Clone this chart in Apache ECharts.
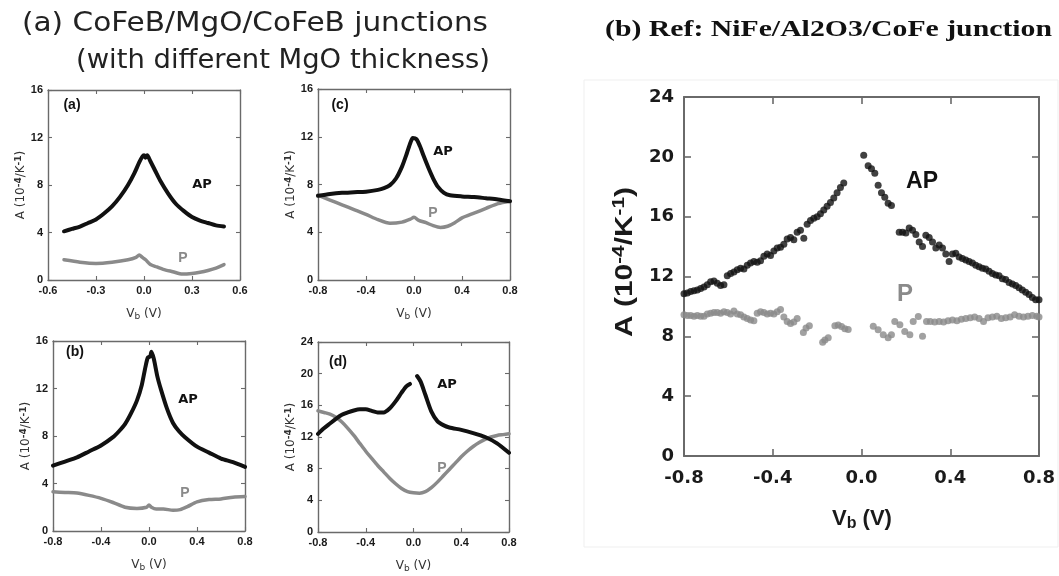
<!DOCTYPE html>
<html>
<head>
<meta charset="utf-8">
<script src="https://cdn.jsdelivr.net/npm/echarts@6/dist/echarts.min.js"></script>
<style>
  html, body { margin: 0; padding: 0; background: #ffffff; }
  #chart { width: 1059px; height: 576px; }
</style>
</head>
<body>
<div id="chart"></div>
<script>
// ---- Thermopower coefficient A (10^-4 / K^-1) versus bias voltage Vb (V) ----

// (a) thinnest MgO barrier, bias sweep ±0.5 V
const aAP = [[-0.5,4.1],[-0.45,4.3],[-0.4,4.5],[-0.35,4.8],[-0.3,5.1],[-0.25,5.6],[-0.2,6.2],[-0.15,7.0],[-0.1,8.0],[-0.06,9.0],[-0.03,9.9],[-0.01,10.4],[0,10.5],[0.01,10.3],[0.02,10.5],[0.04,10.0],[0.07,9.2],[0.1,8.4],[0.15,7.3],[0.2,6.4],[0.25,5.8],[0.3,5.3],[0.35,5.0],[0.4,4.8],[0.45,4.6],[0.5,4.5]];
const aP = [[-0.5,1.7],[-0.4,1.5],[-0.3,1.4],[-0.2,1.5],[-0.1,1.7],[-0.05,1.9],[-0.03,2.1],[-0.01,1.9],[0.01,1.7],[0.04,1.3],[0.08,1.1],[0.12,0.9],[0.18,0.7],[0.24,0.5],[0.3,0.55],[0.35,0.65],[0.4,0.8],[0.45,1.0],[0.5,1.3]];

// (b)
const bAP = [[-0.8,5.5],[-0.7,5.85],[-0.6,6.2],[-0.5,6.7],[-0.4,7.2],[-0.3,7.9],[-0.25,8.4],[-0.2,9.0],[-0.15,9.9],[-0.1,11.0],[-0.06,12.3],[-0.03,13.8],[-0.01,14.6],[0.01,14.7],[0.02,15.1],[0.04,14.5],[0.07,13.0],[0.1,11.9],[0.15,10.3],[0.2,9.1],[0.25,8.4],[0.3,7.9],[0.4,7.1],[0.5,6.6],[0.6,6.1],[0.7,5.8],[0.8,5.4]];
const bP = [[-0.8,3.3],[-0.7,3.25],[-0.6,3.2],[-0.5,3.0],[-0.4,2.75],[-0.3,2.4],[-0.2,2.0],[-0.1,1.9],[-0.02,2.0],[0,2.2],[0.02,2.0],[0.06,1.85],[0.12,1.85],[0.2,1.75],[0.26,1.8],[0.32,2.05],[0.4,2.45],[0.5,2.65],[0.6,2.7],[0.7,2.85],[0.8,2.9]];

// (c)
const cAP = [[-0.8,7.05],[-0.7,7.2],[-0.6,7.3],[-0.5,7.35],[-0.4,7.4],[-0.3,7.55],[-0.25,7.7],[-0.2,7.95],[-0.15,8.5],[-0.1,9.5],[-0.06,10.6],[-0.03,11.5],[-0.01,11.9],[0.02,11.8],[0.05,11.2],[0.08,10.4],[0.12,9.4],[0.16,8.5],[0.2,7.8],[0.25,7.3],[0.3,7.1],[0.4,7.0],[0.5,6.95],[0.6,6.85],[0.7,6.75],[0.8,6.6]];
const cP = [[-0.8,7.1],[-0.7,6.7],[-0.6,6.3],[-0.5,5.9],[-0.4,5.5],[-0.3,5.05],[-0.2,4.75],[-0.1,4.85],[-0.03,5.1],[0,5.25],[0.04,5.0],[0.1,4.8],[0.16,4.55],[0.22,4.4],[0.28,4.5],[0.34,4.8],[0.4,5.2],[0.5,5.6],[0.6,6.0],[0.7,6.4],[0.8,6.6]];

// (d) thickest barrier; AP branch has a gap around zero bias
const dAPneg = [[-0.8,12.4],[-0.75,13.1],[-0.7,13.7],[-0.65,14.3],[-0.6,14.8],[-0.55,15.1],[-0.5,15.35],[-0.45,15.5],[-0.4,15.5],[-0.35,15.3],[-0.3,15.1],[-0.25,15.1],[-0.2,15.6],[-0.15,16.5],[-0.1,17.6],[-0.06,18.4],[-0.03,18.7]];
const dAPpos = [[0.03,19.7],[0.06,19.0],[0.1,17.3],[0.15,15.2],[0.2,14.0],[0.25,13.5],[0.3,13.2],[0.4,12.9],[0.5,12.5],[0.6,12.0],[0.7,11.2],[0.8,10.0]];
const dP = [[-0.8,15.3],[-0.75,15.1],[-0.7,14.9],[-0.65,14.5],[-0.6,13.9],[-0.55,13.1],[-0.5,12.2],[-0.45,11.2],[-0.4,10.2],[-0.35,9.3],[-0.3,8.4],[-0.25,7.6],[-0.2,6.8],[-0.15,6.1],[-0.1,5.5],[-0.05,5.1],[0,4.95],[0.05,4.9],[0.1,5.1],[0.15,5.6],[0.2,6.3],[0.25,7.1],[0.3,7.9],[0.35,8.7],[0.4,9.5],[0.45,10.2],[0.5,10.8],[0.55,11.3],[0.6,11.7],[0.65,12.0],[0.7,12.2],[0.75,12.3],[0.8,12.4]];

// Reference NiFe/Al2O3/CoFe junction (discrete points)
const refAP = [
  [-0.800,10.85],[-0.785,10.9],[-0.770,11.0],[-0.755,11.05],[-0.740,11.1],[-0.725,11.2],[-0.710,11.3],[-0.695,11.45],[-0.680,11.65],[-0.665,11.7],
  [-0.650,11.55],[-0.635,11.4],[-0.620,11.45],[-0.605,12.05],[-0.590,12.2],[-0.575,12.3],[-0.560,12.45],[-0.545,12.55],[-0.530,12.5],[-0.515,12.75],
  [-0.500,12.9],[-0.485,13.0],[-0.470,12.95],[-0.455,13.05],[-0.440,13.35],[-0.425,13.5],[-0.410,13.4],[-0.395,13.7],[-0.380,13.9],[-0.365,13.95],
  [-0.350,14.15],[-0.335,14.5],[-0.320,14.6],[-0.305,14.45],[-0.290,14.95],[-0.275,15.1],[-0.260,14.55],[-0.245,15.5],[-0.230,15.75],[-0.215,15.9],
  [-0.200,16.0],[-0.185,16.2],[-0.170,16.45],[-0.155,16.7],[-0.140,16.95],[-0.125,17.25],[-0.110,17.6],[-0.095,17.95],[-0.080,18.25],
  [0.010,20.1],[0.030,19.4],[0.045,19.2],[0.060,18.9],[0.075,18.1],[0.090,17.6],[0.105,17.3],[0.120,16.9],[0.135,16.75],
  [0.170,14.95],[0.185,14.95],[0.200,14.9],[0.215,15.25],[0.230,15.1],[0.245,14.8],[0.260,14.3],[0.275,14.0],[0.290,14.75],[0.305,14.6],
  [0.320,14.3],[0.335,13.9],[0.350,14.1],[0.365,13.9],[0.380,13.5],[0.395,13.0],[0.410,13.5],[0.425,13.55],[0.440,13.3],[0.455,13.2],
  [0.470,13.1],[0.485,13.0],[0.500,12.9],[0.515,12.75],[0.530,12.65],[0.545,12.55],[0.560,12.5],[0.575,12.35],[0.590,12.2],[0.605,12.1],
  [0.620,12.05],[0.635,11.85],[0.650,11.8],[0.665,11.6],[0.680,11.5],[0.695,11.4],[0.710,11.25],[0.725,11.1],[0.740,10.95],[0.755,10.8],
  [0.770,10.6],[0.785,10.45],[0.800,10.45]
];
const refP = [
  [-0.800,9.45],[-0.785,9.4],[-0.770,9.4],[-0.755,9.35],[-0.740,9.4],[-0.725,9.35],[-0.710,9.35],[-0.695,9.5],[-0.680,9.55],[-0.665,9.6],
  [-0.650,9.6],[-0.635,9.55],[-0.620,9.65],[-0.605,9.6],[-0.590,9.5],[-0.575,9.7],[-0.560,9.5],[-0.545,9.45],[-0.530,9.3],[-0.515,9.2],
  [-0.500,9.1],[-0.485,9.05],[-0.470,9.55],[-0.455,9.65],[-0.440,9.6],[-0.425,9.5],[-0.410,9.55],[-0.395,9.5],[-0.380,9.65],[-0.365,9.8],
  [-0.350,9.3],[-0.335,9.0],[-0.320,8.85],[-0.305,8.95],[-0.290,9.2],[-0.262,8.25],[-0.250,8.55],[-0.235,8.7],
  [-0.175,7.6],[-0.165,7.75],[-0.150,7.9],[-0.120,8.7],[-0.105,8.75],[-0.090,8.65],[-0.075,8.5],[-0.060,8.45],
  [0.053,8.67],[0.075,8.44],[0.098,8.1],[0.120,7.9],[0.135,8.1],[0.150,9.0],[0.173,8.78],[0.195,8.33],[0.218,8.1],[0.233,9.0],
  [0.256,9.33],[0.275,8.0],[0.293,9.0],[0.310,9.0],[0.330,8.95],[0.350,9.0],[0.370,8.95],[0.390,9.05],[0.410,9.1],[0.430,9.05],
  [0.450,9.15],[0.470,9.2],[0.490,9.25],[0.510,9.3],[0.530,9.2],[0.550,9.0],[0.570,9.25],[0.590,9.3],[0.610,9.35],[0.630,9.2],
  [0.650,9.25],[0.670,9.3],[0.690,9.45],[0.710,9.35],[0.730,9.3],[0.750,9.35],[0.770,9.4],[0.790,9.35],[0.800,9.3]
];

// Axis ranges [min, max, interval]
const xRangeA = [-0.6, 0.6, 0.3];
const xRangeWide = [-0.8, 0.8, 0.4];
const yRange16 = [0, 16, 4];
const yRange24 = [0, 24, 4];

// Text
const titleLeft1 = '(a) CoFeB/MgO/CoFeB junctions';
const titleLeft2 = '(with different MgO thickness)';
const titleRight = '(b) Ref: NiFe/Al2O3/CoFe junction';
const yNameRich = '{n|A (10}{s|-4}{n|/K}{s|-1}{n|)}';
const xNameRich = '{n|V}{b|b}{n| (V)}';

const AP_COLOR = '#111111';
const P_COLOR = '#8a8a8a';
const FRAME = '#6a6a6a';

const grids = [];
const xAxes = [];
const yAxes = [];
const series = [];

function addPanel(box, xr, yr, big) {
  const gi = grids.length;
  grids.push(Object.assign({ containLabel: false }, box));
  const lineW = big ? 2 : 1.4;
  const tickLen = big ? 7 : 4;
  const common = (pos, labels, isX) => ({
    type: 'value',
    gridIndex: gi,
    position: pos,
    min: isX ? xr[0] : yr[0],
    max: isX ? xr[1] : yr[1],
    interval: isX ? xr[2] : yr[2],
    splitLine: { show: false },
    axisLine: { show: true, onZero: false, lineStyle: { color: FRAME, width: lineW } },
    axisTick: { show: true, inside: true, length: tickLen, lineStyle: { color: FRAME, width: big ? 1.6 : 1.1 } },
    axisLabel: {
      show: labels,
      color: '#1a1a1a',
      fontFamily: big ? 'DejaVu Sans' : 'Liberation Sans',
      fontWeight: 'bold',
      fontSize: big ? 18 : 11,
      margin: isX ? (big ? 13 : 5) : (big ? 10 : 5),
      formatter: isX ? (v => v.toFixed(1)) : (v => String(Math.round(v)))
    }
  });
  const xi = xAxes.length;
  const xb = common('bottom', true, true);
  if (!big) {
    xb.name = xNameRich;
    xb.nameLocation = 'middle';
    xb.nameGap = 27;
    xb.nameTextStyle = {
      rich: {
        n: { fontFamily: 'DejaVu Sans', fontSize: 12, color: '#333', lineHeight: 14 },
        b: { fontFamily: 'DejaVu Sans', fontSize: 9, color: '#333', lineHeight: 9, verticalAlign: 'bottom' }
      }
    };
  }
  xAxes.push(xb);
  xAxes.push(common('top', false, true));
  const yi = yAxes.length;
  const yl = common('left', true, false);
  if (!big) {
    yl.name = yNameRich;
    yl.nameLocation = 'middle';
    yl.nameRotate = 90;
    yl.nameGap = 20;
    yl.nameTextStyle = {
      rich: {
        n: { fontFamily: 'DejaVu Sans', fontSize: 12, color: '#333', lineHeight: 14 },
        s: { fontFamily: 'DejaVu Sans', fontWeight: 'bold', fontSize: 9, color: '#333', lineHeight: 8, verticalAlign: 'top' }
      }
    };
  }
  yAxes.push(yl);
  yAxes.push(common('right', false, false));
  return { xi, yi };
}

function lineSeries(ax, data, color, width) {
  series.push({
    type: 'line', xAxisIndex: ax.xi, yAxisIndex: ax.yi, data: data,
    showSymbol: false, smooth: 0.25, silent: true, animation: false,
    lineStyle: { color: color, width: width, cap: 'round', join: 'round' }
  });
}
function dotSeries(ax, data, color) {
  series.push({
    type: 'scatter', xAxisIndex: ax.xi, yAxisIndex: ax.yi, data: data,
    symbol: 'circle', symbolSize: 7, silent: true, animation: false,
    itemStyle: { color: color }
  });
}

const pa = addPanel({ left: 48, top: 90, width: 192, height: 190 }, xRangeA, yRange16, false);
lineSeries(pa, aP, P_COLOR, 3.5);
lineSeries(pa, aAP, AP_COLOR, 4);

const pc = addPanel({ left: 318, top: 89, width: 192, height: 191 }, xRangeWide, yRange16, false);
lineSeries(pc, cP, P_COLOR, 3.5);
lineSeries(pc, cAP, AP_COLOR, 4);

const pb = addPanel({ left: 53, top: 341, width: 192, height: 190 }, xRangeWide, yRange16, false);
lineSeries(pb, bP, P_COLOR, 3.5);
lineSeries(pb, bAP, AP_COLOR, 4);

const pd = addPanel({ left: 318, top: 342, width: 191, height: 190 }, xRangeWide, yRange24, false);
lineSeries(pd, dP, P_COLOR, 3.5);
lineSeries(pd, dAPneg, AP_COLOR, 4);
lineSeries(pd, dAPpos, AP_COLOR, 4);

const pr = addPanel({ left: 684, top: 97, width: 355, height: 359 }, xRangeWide, yRange24, true);
dotSeries(pr, refP, P_COLOR);
dotSeries(pr, refAP, AP_COLOR);

// horizontal stretch so a line of text spans a given width
const measureCtx = document.createElement('canvas').getContext('2d');
function stretchTo(text, font, width) {
  measureCtx.font = font;
  return width / measureCtx.measureText(text).width;
}

function txt(x, y, text, opts, extra) {
  return Object.assign({
    type: 'text', x: x, y: y, silent: true,
    style: Object.assign({
      text: text, fill: '#111', align: 'center', verticalAlign: 'middle',
      font: 'bold 14px "Liberation Sans", Arial, sans-serif'
    }, opts || {})
  }, extra || {});
}

const FONT_T1 = '26px "DejaVu Sans"';
const FONT_T2 = 'bold 23px "Liberation Serif"';
const smallAP = { font: 'bold 13px "DejaVu Sans"' };
const smallP = { fill: P_COLOR, font: 'bold 14px "Liberation Sans", Arial' };

const graphic = [
  { type: 'rect', silent: true, shape: { x: 584, y: 80, width: 474, height: 467 },
    style: { fill: 'none', stroke: '#efefef', lineWidth: 1 } },
  txt(22, 24, titleLeft1, { align: 'left', fill: '#222', font: FONT_T1 },
      { scaleX: stretchTo(titleLeft1, FONT_T1, 466) }),
  txt(76, 61, titleLeft2, { align: 'left', fill: '#222', font: FONT_T1 },
      { scaleX: stretchTo(titleLeft2, FONT_T1, 414) }),
  txt(605, 30, titleRight, { align: 'left', fill: '#111', font: FONT_T2 },
      { scaleX: stretchTo(titleRight, FONT_T2, 447) }),
  // panel letters and curve labels
  txt(72, 105, '(a)'), txt(202, 185, 'AP', smallAP), txt(183, 258, 'P', smallP),
  txt(340, 105, '(c)'), txt(443, 152, 'AP', smallAP), txt(433, 213, 'P', smallP),
  txt(75, 352, '(b)'), txt(188, 400, 'AP', smallAP), txt(185, 493, 'P', smallP),
  txt(338, 362, '(d)'), txt(447, 385, 'AP', smallAP), txt(442, 468, 'P', smallP),
  txt(922, 182, 'AP', { font: 'bold 23px "Liberation Sans", Arial' }),
  txt(905, 294, 'P', { fill: P_COLOR, font: 'bold 24px "Liberation Sans", Arial' }),
  // axis titles of the reference panel
  txt(626, 262, yNameRich, {
    fill: '#1a1a1a',
    rich: {
      n: { font: 'bold 23px "Liberation Sans", Arial', fill: '#1a1a1a', lineHeight: 28 },
      s: { font: 'bold 16px "Liberation Sans", Arial', fill: '#1a1a1a', lineHeight: 16, verticalAlign: 'top' }
    }
  }, { rotation: Math.PI / 2, scaleX: 1.3 }),
  txt(862, 519, xNameRich, {
    fill: '#1a1a1a',
    rich: {
      n: { font: 'bold 22px "Liberation Sans", Arial', fill: '#1a1a1a', lineHeight: 26 },
      b: { font: 'bold 16px "Liberation Sans", Arial', fill: '#1a1a1a', lineHeight: 16, verticalAlign: 'bottom' }
    }
  })
];

const chart = echarts.init(document.getElementById('chart'), null, { renderer: 'canvas' });
chart.setOption({
  backgroundColor: '#ffffff',
  animation: false,
  grid: grids,
  xAxis: xAxes,
  yAxis: yAxes,
  series: series,
  graphic: graphic
});
</script>
</body>
</html>
